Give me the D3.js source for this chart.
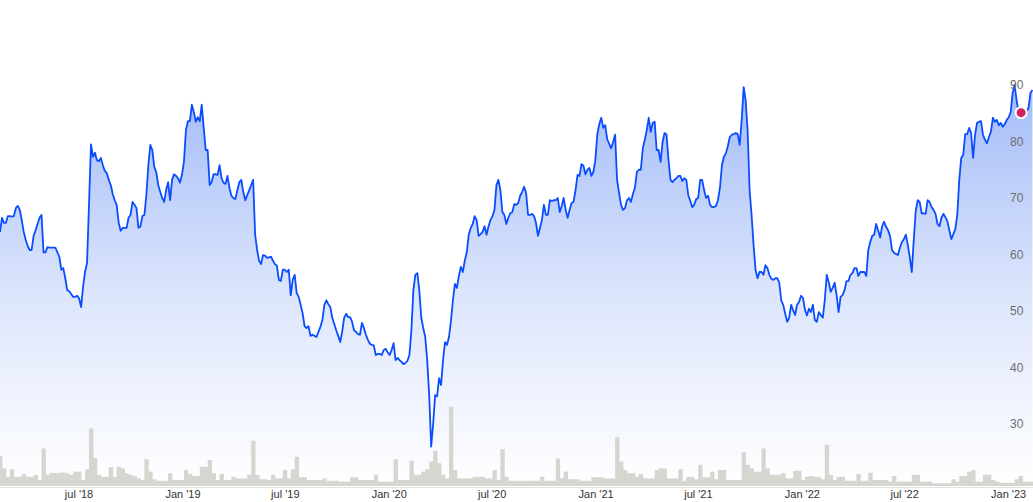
<!DOCTYPE html>
<html>
<head>
<meta charset="utf-8">
<script src="https://cdn.jsdelivr.net/npm/d3@7"></script>
<style>
  html, body { margin: 0; padding: 0; background: #ffffff; }
  svg { display: block; }
</style>
</head>
<body>
<svg id="chart" width="1033" height="502"></svg>
<script>
// ---- data (half-weekly closes, starting Mon 12 Feb 2018) ----
const startDate = "2018-02-12";
const endDate = "2023-02-14";
const prices = [
  64.0, 66.5, 65.6, 65.6, 66.8, 66.8, 66.7, 66.8, 68.2, 68.6,
  67.9, 66.1, 64.0, 62.6, 61.5, 60.8, 60.8, 63.3, 64.3, 65.4,
  66.5, 67.0, 60.4, 60.4, 61.3, 61.2, 61.2, 61.2, 61.2, 60.4,
  59.6, 57.3, 57.6, 55.8, 53.7, 53.5, 53.0, 52.5, 52.5, 52.7,
  52.2, 50.7, 54.3, 56.9, 58.5, 68.8, 79.5, 77.3, 78.0, 76.7,
  76.5, 77.1, 75.8, 74.8, 74.4, 73.2, 72.3, 70.7, 69.6, 68.8,
  65.6, 64.2, 64.7, 64.7, 64.7, 66.5, 67.0, 69.3, 68.8, 68.2,
  64.7, 65.0, 66.8, 67.0, 70.5, 75.8, 79.4, 78.5, 75.5, 74.6,
  72.3, 71.1, 70.0, 69.3, 71.4, 72.8, 69.6, 73.2, 74.2, 73.9,
  73.5, 72.7, 74.1, 76.4, 82.0, 83.6, 83.6, 86.5, 85.2, 83.5,
  84.3, 83.6, 86.5, 82.4, 78.5, 78.5, 72.3, 72.8, 74.2, 74.2,
  74.1, 75.8, 73.5, 72.7, 72.5, 73.9, 71.8, 70.4, 70.0, 69.8,
  71.4, 72.8, 73.2, 71.1, 69.6, 70.5, 71.4, 72.3, 73.2, 63.5,
  60.8, 58.9, 58.3, 59.9, 59.8, 59.4, 59.5, 59.6, 58.9, 58.3,
  58.0, 55.5, 55.3, 57.3, 57.3, 56.9, 57.3, 52.8, 55.5, 56.4,
  53.2, 52.5, 51.1, 49.6, 47.3, 47.0, 47.3, 45.6, 45.8, 45.6,
  45.4, 46.3, 47.2, 48.4, 51.1, 51.9, 51.2, 50.7, 48.8, 47.7,
  46.6, 45.6, 44.5, 46.3, 48.8, 49.5, 48.9, 48.9, 48.1, 46.6,
  46.3, 45.9, 45.8, 47.9, 47.0, 45.8, 44.9, 44.2, 44.0, 43.9,
  42.2, 42.4, 42.4, 42.2, 43.1, 43.3, 42.7, 42.2, 43.1, 44.3,
  41.3, 41.7, 41.3, 41.0, 40.6, 40.8, 41.2, 42.2, 46.6, 53.7,
  56.4, 56.7, 53.7, 48.8, 47.0, 45.4, 41.3, 35.1, 26.0, 30.0,
  35.1, 34.9, 38.1, 36.9, 41.3, 44.5, 44.0, 45.4, 48.2, 51.9,
  54.8, 54.1, 56.2, 57.8, 56.9, 58.9, 60.4, 63.5, 64.7, 65.4,
  66.8, 66.1, 63.3, 63.6, 64.0, 65.0, 63.5, 65.0, 66.1, 66.8,
  67.9, 72.3, 73.2, 71.4, 67.5, 67.0, 65.4, 66.5, 67.3, 67.5,
  68.9, 68.8, 69.1, 70.4, 71.1, 72.0, 70.9, 67.0, 67.0, 67.2,
  66.8, 65.6, 63.3, 64.7, 66.1, 68.8, 67.0, 67.0, 69.6, 69.5,
  69.6, 69.6, 70.0, 67.5, 68.6, 70.0, 67.9, 66.5, 67.9, 69.1,
  69.3, 71.4, 74.1, 73.9, 76.0, 75.7, 74.2, 75.0, 75.3, 73.9,
  74.6, 76.7, 81.3, 83.1, 84.2, 82.4, 82.9, 80.4, 79.6, 78.8,
  79.9, 81.2, 73.2, 70.9, 68.8, 67.9, 68.2, 69.6, 70.0, 69.3,
  70.7, 71.8, 74.6, 75.0, 75.0, 78.8, 80.3, 82.0, 84.2, 81.7,
  83.3, 83.5, 78.5, 78.5, 76.4, 79.9, 81.5, 81.2, 76.7, 73.2,
  72.8, 73.2, 73.5, 73.9, 73.9, 73.0, 73.5, 73.2, 70.5, 69.5,
  68.4, 68.8, 69.8, 70.0, 73.2, 73.2, 71.4, 70.0, 70.4, 68.8,
  68.4, 68.4, 68.6, 69.6, 71.8, 75.8, 77.3, 77.9, 79.2, 80.8,
  81.2, 81.3, 81.5, 81.3, 79.4, 83.8, 89.6, 87.3, 82.0, 71.4,
  67.0, 61.7, 57.3, 55.8, 56.9, 56.9, 56.4, 58.1, 57.6, 56.4,
  55.7, 55.5, 55.8, 55.8, 55.0, 51.9, 51.1, 49.5, 48.1, 48.8,
  51.1, 50.1, 49.3, 51.1, 51.6, 52.7, 52.3, 50.2, 49.2, 50.4,
  49.8, 51.1, 48.4, 48.1, 49.8, 49.3, 48.8, 51.9, 56.4, 55.1,
  53.4, 54.1, 55.0, 52.8, 49.8, 52.5, 52.8, 53.7, 55.3, 55.3,
  56.4, 56.7, 57.6, 57.6, 56.2, 56.9, 56.9, 56.9, 56.2, 60.8,
  62.2, 63.3, 63.5, 65.4, 64.3, 63.0, 65.0, 65.8, 64.9, 64.3,
  63.3, 60.8, 60.3, 60.1, 59.9, 61.2, 62.2, 62.7, 63.5, 61.7,
  59.5, 56.9, 62.6, 67.7, 69.6, 69.3, 67.3, 67.3, 67.2, 69.6,
  69.3, 68.4, 67.9, 67.2, 65.4, 65.0, 66.5, 67.2, 66.6, 65.9,
  64.3, 62.7, 63.6, 64.5, 67.0, 73.2, 77.1, 77.6, 81.3, 81.3,
  82.4, 81.5, 77.1, 81.2, 83.3, 83.5, 83.6, 81.2, 80.3, 79.7,
  80.8, 81.7, 84.2, 83.5, 83.8, 82.9, 83.3, 82.6, 83.1, 83.8,
  84.3, 85.2, 88.6, 90.0, 87.3, 85.2, 85.0, 85.0, 85.2, 85.4,
  85.9, 88.6, 89.1
];
// weekly volume, millions
const volumes = [
  7.5, 4.4, 2.3, 4.2, 2.3, 2.3, 3.0, 2.3, 2.3, 2.8,
  1.5, 9.4, 2.8, 3.3, 3.3, 3.3, 3.4, 3.2, 2.8, 3.6,
  3.6, 1.5, 4.2, 14.4, 7.0, 2.8, 2.3, 2.3, 4.7, 2.3,
  4.8, 4.4, 3.2, 2.8, 2.5, 1.9, 1.5, 6.7, 3.6, 1.7,
  1.3, 1.3, 1.3, 3.2, 1.5, 1.5, 1.5, 4.0, 3.0, 2.5,
  2.5, 4.8, 4.8, 6.5, 3.2, 1.5, 3.0, 1.5, 1.5, 2.3,
  1.9, 1.9, 1.9, 2.8, 11.3, 2.8, 1.7, 1.7, 1.5, 2.8,
  1.9, 1.9, 4.0, 1.9, 4.2, 7.3, 2.2, 2.2, 1.5, 1.5,
  1.5, 1.5, 1.9, 1.3, 1.3, 1.3, 1.1, 1.1, 1.1, 2.2,
  2.2, 1.5, 1.5, 1.5, 1.5, 2.8, 1.1, 1.1, 1.1, 1.1,
  6.7, 1.5, 1.5, 1.5, 6.3, 2.8, 2.8, 3.6, 4.2, 6.1,
  8.8, 5.7, 2.8, 1.9, 19.8, 4.0, 1.9, 1.9, 1.9, 1.9,
  2.3, 2.3, 2.3, 1.9, 1.9, 4.0, 1.5, 9.2, 2.3, 1.3,
  1.3, 1.3, 1.3, 1.3, 1.3, 1.3, 1.3, 2.3, 1.3, 1.3,
  1.3, 6.9, 1.9, 3.6, 1.7, 1.7, 1.7, 1.3, 1.3, 1.3,
  2.2, 2.2, 2.2, 1.9, 1.9, 1.9, 12.2, 6.1, 4.0, 3.2,
  3.2, 2.3, 3.0, 1.9, 1.9, 1.9, 4.0, 4.4, 4.4, 1.9,
  1.9, 1.9, 4.2, 1.3, 2.3, 2.3, 1.7, 5.3, 2.2, 2.2,
  3.6, 1.7, 4.0, 4.0, 1.5, 1.5, 1.5, 1.5, 8.4, 5.3,
  4.4, 3.6, 3.6, 9.4, 4.4, 2.8, 2.8, 2.8, 3.2, 1.9,
  1.9, 3.8, 3.8, 1.5, 2.3, 2.5, 2.3, 2.3, 1.7, 10.3,
  2.8, 1.5, 2.3, 2.3, 1.3, 1.3, 1.3, 3.0, 1.3, 1.3,
  3.3, 1.5, 1.5, 1.5, 1.5, 1.1, 2.5, 1.1, 1.1, 1.1,
  1.1, 2.8, 2.8, 1.1, 1.1, 1.1, 0.7, 0.7, 0.7, 0.7,
  0.7, 1.7, 1.1, 2.5, 2.5, 3.6, 4.0, 1.1, 1.1, 2.8,
  2.8, 1.5, 1.1, 0.8, 0.8, 0.8, 0.8, 1.7, 2.5, 1.1,
  1.1, 1.1
];
const priceTicks = [30, 40, 50, 60, 70, 80, 90];
const dateTicks = ["2018-07-01", "2019-01-01", "2019-07-01", "2020-01-01", "2020-07-01",
                   "2021-01-01", "2021-07-01", "2022-01-01", "2022-07-01", "2023-01-01"];
const dateTickLabels = ["jul '18", "Jan '19", "jul '19", "Jan '20", "jul '20",
                        "Jan '21", "jul '21", "Jan '22", "jul '22", "Jan '23"];
const markerDate = "2023-01-24";
const markerValue = 85.1;

// ---- layout ----
const W = 1033, H = 502;
const parse = d3.timeParse("%Y-%m-%d");
const start = parse(startDate);
const priceSeries = prices.map((p, k) => ({ date: d3.timeHour.offset(start, 84 * k), price: p }));
const volSeries = volumes.map((v, i) => ({ date: d3.timeDay.offset(start, 7 * i), vol: v }));

const svg = d3.select("#chart");
const x = d3.scaleTime().domain([start, parse(endDate)]).range([0, W]);
const y = d3.scaleLinear().domain([30, 90]).range([424, 85]);
const baseY = 487;
const yVol = d3.scaleLinear().domain([0, 20]).range([486, 406]);

const defs = svg.append("defs");
const grad = defs.append("linearGradient")
  .attr("id", "fillGrad").attr("gradientUnits", "userSpaceOnUse")
  .attr("x1", 0).attr("x2", 0).attr("y1", y(90)).attr("y2", baseY);
grad.append("stop").attr("offset", "0%").attr("stop-color", "#a3bcf7");
grad.append("stop").attr("offset", "55%").attr("stop-color", "#dfe7fc");
grad.append("stop").attr("offset", "100%").attr("stop-color", "#ffffff");

// area
const area = d3.area().x(d => x(d.date)).y0(baseY).y1(d => y(d.price));
svg.append("path").datum(priceSeries).attr("d", area).attr("fill", "url(#fillGrad)");

// volume bars
const step = x(d3.timeDay.offset(start, 7)) - x(start);
svg.append("g").selectAll("rect").data(volSeries).join("rect")
  .attr("x", d => x(d.date) - step / 2)
  .attr("width", step + 0.4)
  .attr("y", d => yVol(d.vol))
  .attr("height", d => yVol(0) - yVol(d.vol))
  .attr("fill", "#d6d6d1");

// baseline
svg.append("line").attr("x1", 0).attr("x2", W).attr("y1", baseY + 0.5).attr("y2", baseY + 0.5)
  .attr("stroke", "#e2e2e2").attr("stroke-width", 1);

// price line
const line = d3.line().x(d => x(d.date)).y(d => y(d.price));
svg.append("path").datum(priceSeries).attr("d", line)
  .attr("fill", "none").attr("stroke", "#0a4dff").attr("stroke-width", 1.8)
  .attr("stroke-linejoin", "round");

// y axis labels (right)
const yAxis = d3.axisRight(y).tickValues(priceTicks).tickSize(0).tickPadding(0);
const gy = svg.append("g").attr("transform", "translate(1010,0)").call(yAxis);
gy.select(".domain").remove();
gy.selectAll("text").attr("fill", "#6e6e6e")
  .style("font-family", "'Liberation Sans', Arial, sans-serif").style("font-size", "12px");

// x axis labels
const tickDates = dateTicks.map(parse);
const xAxis = d3.axisBottom(x).tickValues(tickDates)
  .tickFormat((d, i) => dateTickLabels[i]).tickSize(0).tickPadding(0);
const gx = svg.append("g").attr("transform", "translate(0," + (baseY + 2) + ")").call(xAxis);
gx.select(".domain").remove();
gx.selectAll("text").attr("fill", "#333333").attr("dy", "0.85em")
  .style("font-family", "'Liberation Sans', Arial, sans-serif").style("font-size", "11px");
gx.selectAll("text").each(function (d) {
  const len = this.getComputedTextLength();
  const cx = x(d);
  const maxC = W - 1 - len / 2;
  if (cx > maxC) d3.select(this).attr("x", maxC - cx);
});

// marker
svg.append("circle")
  .attr("cx", x(parse(markerDate))).attr("cy", y(markerValue)).attr("r", 5.5)
  .attr("fill", "#d3205f").attr("stroke", "#ffffff").attr("stroke-width", 2);
</script>
</body>
</html>
